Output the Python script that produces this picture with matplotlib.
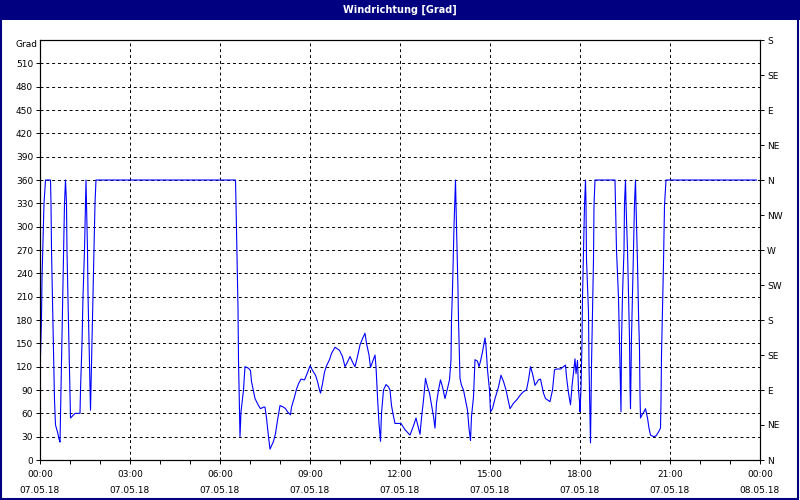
import matplotlib
matplotlib.use("Agg")
import matplotlib.pyplot as plt
from matplotlib.patches import Rectangle

# minutes since 07.05.18 00:00 and wind direction in degrees
minutes = [1, 3, 4, 6, 8, 11, 21, 22, 23, 25, 27, 29, 31, 35, 38, 40, 41, 43, 45, 47,
           49, 51, 53, 54, 56, 58, 60, 61, 70, 80, 81, 84, 86, 89, 91, 92, 93, 95, 96, 98,
           100, 101, 102, 104, 106, 108, 110, 112, 391, 392, 394, 396, 397, 399, 400, 402,
           407, 410, 417, 421, 423, 430, 437, 441, 447, 450, 453, 457, 460, 467, 471, 475,
           480, 487, 491, 495, 501, 503, 509, 513, 517, 522, 529, 533, 540, 547, 551, 555,
           559, 561, 565, 569, 573, 579, 583, 590, 599, 605, 610, 615, 620, 625, 630, 635,
           640, 645, 650, 653, 658, 661, 665, 670, 672, 675, 678, 681, 683, 687, 692, 697,
           700, 703, 707, 710, 722, 730, 740, 747, 752, 757, 760, 763, 767, 771, 775, 779,
           783, 787, 790, 793, 797, 801, 805, 810, 815, 819, 822, 823, 825, 828, 831, 833,
           836, 837, 840, 843, 847, 851, 855, 858, 861, 863, 867, 870, 875, 878, 881, 885,
           888, 890, 892, 895, 899, 901, 905, 910, 917, 922, 927, 932, 940, 947, 953, 960,
           967, 973, 977, 981, 985, 990, 997, 1001, 1007, 1011, 1020, 1025, 1029, 1033, 1041, 1047,
           1051, 1053, 1057, 1061, 1064, 1067, 1070, 1072, 1075, 1077, 1079, 1080, 1082, 1084, 1085, 1087,
           1089, 1091, 1092, 1093, 1097, 1098, 1100, 1101, 1103, 1105, 1107, 1108, 1110, 1150, 1151, 1153,
           1157, 1159, 1161, 1162, 1163, 1165, 1168, 1169, 1171, 1172, 1175, 1177, 1179, 1180, 1181, 1183,
           1185, 1187, 1189, 1191, 1192, 1195, 1197, 1199, 1200, 1201, 1204, 1208, 1211, 1215, 1218, 1221,
           1227, 1232, 1237, 1241, 1242, 1243, 1245, 1247, 1249, 1252, 1433]
grad = [135, 183, 233, 284, 330, 360, 360, 330, 270, 203, 141, 77, 45, 36, 27, 23, 57, 124, 190, 259,
        330, 360, 330, 268, 205, 147, 84, 54, 60, 60, 90, 150, 210, 270, 330, 360, 330, 270, 213, 153,
        94, 64, 94, 153, 213, 273, 330, 360, 360, 330, 261, 195, 129, 64, 30, 62,
        90, 120, 118, 115, 101, 79, 70, 66, 68, 68, 54, 30, 14, 24, 34, 51,
        70, 68, 66, 62, 58, 68, 81, 91, 98, 104, 103, 109, 121, 113, 109, 101,
        90, 86, 98, 113, 121, 129, 137, 145, 141, 133, 120, 126, 133, 126, 120, 133,
        148, 156, 163, 150, 135, 119, 126, 135, 120, 81, 47, 24, 60, 90, 97, 94,
        90, 70, 56, 47, 47, 39, 32, 44, 54, 41, 33, 54, 77, 105, 94, 86,
        71, 56, 41, 73, 90, 103, 94, 79, 92, 103, 129, 180, 219, 300, 360, 300,
        219, 180, 105, 96, 90, 77, 64, 41, 25, 56, 81, 129, 127, 120, 127, 139,
        150, 157, 146, 116, 90, 62, 66, 79, 94, 109, 101, 90, 66, 73, 77, 83,
        88, 90, 103, 120, 111, 96, 103, 104, 86, 79, 75, 90, 116, 117, 117, 120,
        122, 107, 86, 71, 95, 113, 130, 111, 128, 90, 75, 62, 92, 152, 209, 267,
        327, 360, 330, 258, 190, 122, 58, 22, 122, 190, 258, 327, 360, 360, 330, 270,
        209, 152, 94, 62, 152, 212, 270, 330, 360, 330, 270, 212, 157, 96, 66, 157,
        212, 270, 330, 360, 330, 253, 190, 143, 84, 54, 58, 62, 66, 54, 41, 32,
        30, 31, 36, 41, 75, 135, 195, 253, 327, 360, 360]

y_ticks = list(range(0, 511, 30))
compass = ["N", "NE", "E", "SE", "S", "SW", "W", "NW", "N", "NE", "E", "SE", "S"]
compass_deg = list(range(0, 541, 45))
x_ticks = list(range(0, 1441, 180))
x_labels = [f"{(m // 60) % 24:02d}:00\n{'08.05.18' if m >= 1440 else '07.05.18'}" for m in x_ticks]

navy = "#000080"
fs = 6.5

fig = plt.figure(figsize=(8, 5), dpi=100, facecolor="white")
ax = fig.add_axes([0.05, 0.08, 0.90, 0.84])

ax.plot(minutes, grad, color="#0000ff", lw=0.8)
ax.set_xlim(0, 1440)
ax.set_ylim(0, 540)

ax.set_yticks(y_ticks)
ax.set_xticks(x_ticks)
ax.set_xticklabels(x_labels, linespacing=2.0)
ax.set_xticks(range(0, 1441, 60), minor=True)
ax.tick_params(axis="both", labelsize=fs, length=3, width=0.7, color="black", pad=2)
ax.tick_params(axis="x", which="minor", length=3, width=0.7)
ax.tick_params(axis="x", pad=4)
ax.grid(True, color="black", linestyle=(0, (3, 3)), linewidth=0.7)
for s in ax.spines.values():
    s.set_linewidth(0.8)
ax.text(-0.004, 1.0, "Grad", transform=ax.transAxes, ha="right", va="top", fontsize=fs)

ax2 = ax.twinx()
ax2.set_ylim(0, 540)
ax2.set_yticks(compass_deg)
ax2.set_yticklabels(compass)
ax2.tick_params(axis="y", labelsize=fs, length=3, width=0.7, pad=2)

# title bar and window frame
fig.patches.append(Rectangle((0, 0.96), 1, 0.04, transform=fig.transFigure,
                             facecolor=navy, edgecolor="none", zorder=0))
fig.patches.append(Rectangle((0.001, 0.003), 0.997, 0.995, transform=fig.transFigure,
                             facecolor="none", edgecolor=navy, lw=1.5, zorder=5))
fig.text(0.5, 0.98, "Windrichtung [Grad]", color="white", ha="center", va="center",
         fontsize=7, fontweight="bold")

fig.savefig("out.png", dpi=100, facecolor="white")
